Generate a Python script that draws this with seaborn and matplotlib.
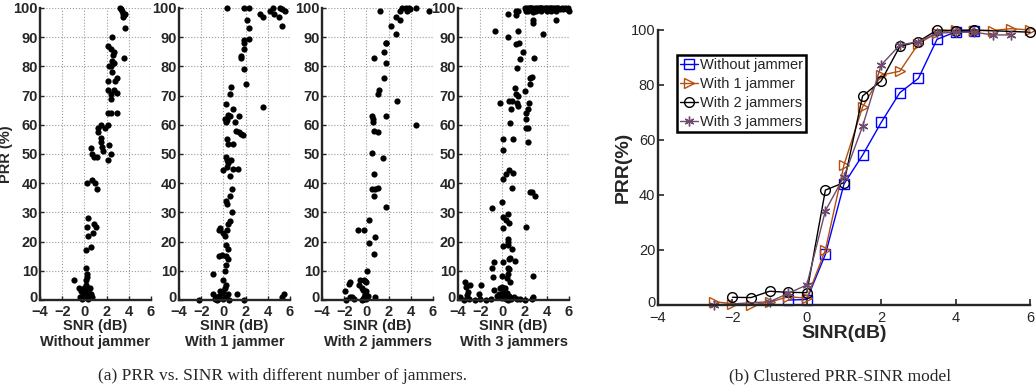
import seaborn as sns
import matplotlib.pyplot as plt
import matplotlib.transforms as mtransforms
import pandas as pd

# (a) measured PRR vs SINR, one scatter per jammer count
sinr_0j = [3.2, 3.3, 3.4, 3.5, 3.6, 3.7, 3.5, 3.7, 2.5, 2.1, 2.4, 2.7, 2.6, 3.6, 2.5, 2.7, 2.4, 2.2,
           2.5, 2.1, 2.8, 2.9, 2.1, 2.7, 2.9, 2.4, 2.4, 2.1, 2.9, 2.4, 1.5, 2.1, 1.9, 1.2, 1.2,
           1.5, 1.5, 1.6, 2.2, 2.4, 1.7, 2.1, 0.55, 0.7, 0.85, 1.15, 0.2, 0.7, 0.95, 1.15,
           0.3, 0.2, 0.9, 1.0, 0.8, 0.35, 0.6, 0.1, 0.1, 0.25, 0.2, 0.1, -0.9,
           -0.5, -0.3, 0.0, 0.2, 0.4, 0.5, 0.3, 0.0, -0.2, 0.1, 0.6, 0.2, -0.4, 0.7, 0.0, 0.3, -0.1]
prr_0j = [100, 99.5, 99, 98, 97.5, 98, 97, 93, 90, 87, 86, 85, 84, 83, 82, 81, 80, 80,
          78, 75, 75, 76, 72, 72, 71, 70.5, 69, 64, 64, 64, 60, 60, 59, 59, 57.5,
          55.5, 54, 52.5, 53, 50, 51, 48, 52, 50, 49, 49, 40, 41, 40, 38,
          28, 25, 26, 25, 23, 22, 18, 17, 11, 9, 8, 7, 7,
          4, 3, 2, 1, 2, 4, 3, 1, 0.5, 5, 2, 3, 1, 1, 4, 0.5, 2.5]

sinr_1j = [0.35, 1.9, 2.35, 2.15, 2.35, 2.35, 1.9, 1.9, 1.9, 1.6, 1.6, 1.85, 2.05,
           3.3, 3.6, 4.2, 4.45, 4.6, 5.05, 5.1, 5.25, 5.55, 5.25, 3.6, 5.25, 5.5,
           0.65, 0.6, 0.2, 0.9, 0.45, 0.6, 0.15, 0.3, 0.2, 1.4, 1.0, 1.1, 1.45, 1.6, 1.75,
           0.3, 0.45, 0.9, 0.2, 0.3, 0.65, 0.45, 0.0, 0.3, 0.9, 1.3, 0.6, 0.75,
           0.55, 0.3, 0.2, 0.75, 0.6, 0.45, 0.3, -0.3, -0.4, 0.0, 0.15,
           0.45, 0.2, 0.2, -0.15, -0.4, 0.4, 0.2, 0.15, 0.0, -0.9, 0.2,
           -0.9, -0.7, -0.5, -0.3, -0.6, -0.1, 0.2, 0.0, 0.4, -0.8, 0.5, 1.2, -2.2, 1.9, -0.4, 0.1, 0.0]
prr_1j = [100, 100, 100, 96, 93, 89.5, 89, 88, 86, 83.5, 83, 79, 74,
          98, 97, 99, 100, 98, 97, 100, 99.5, 99, 94, 66, 1, 2,
          73, 70.5, 67, 65.5, 63.5, 63, 62, 61.5, 61, 63, 61, 58, 57.5, 57, 56.5,
          55, 53.5, 53.5, 49, 48, 48, 47, 44.5, 45.5, 45, 45, 42.5, 38,
          35.5, 33, 34, 30, 27, 26, 24, 24.5, 24, 23, 22,
          17.5, 19, 15, 15.5, 15, 14, 12, 10, 7, 9, 5,
          2, 1, 0.5, 3, 0, 2.5, 1, 0.3, 2, 0.5, 0, 2, 0, 0, 1.5, 4, 3]

sinr_2j = [1.2, 3.0, 3.25, 3.55, 3.65, 3.85, 3.9, 4.5, 5.6, 2.65, 3.0, 2.2, 2.7,
           1.75, 1.8, 1.6, 1.75, 0.7, 1.6, 1.1, 1.0, 2.8, 0.5, 0.6, 0.55, 1.75, 4.5,
           0.7, 1.0, 0.5, 1.5, 0.7, 0.5, 0.8, 1.0, 0.7, 1.8, 0.25, -0.8, -0.2,
           0.8, 0.2, 0.65, 0.05,
           -1.8, -1.9, -1.6, -1.5, -1.5, -1.3, -1.1, -0.7, -0.6, -0.4, -0.3, -0.2, -0.1, 0.0,
           -0.3, -0.2, -0.1, 0.0, 0.1, 0.0, -0.4, 0.8, -0.2, -0.1]
prr_2j = [99, 99, 100, 100, 99, 100, 99.5, 100, 99, 97, 96, 94, 91,
          88, 88, 85, 81, 83, 76, 72, 70.5, 68, 63, 62, 61, 63, 60,
          58, 57.5, 50.5, 48.5, 43, 38, 38, 38.3, 35.5, 32, 27.5, 24, 24,
          21.7, 19.4, 15.7, 10,
          0, 3, 5.5, 6, 1, 1, 0.5, 5, 7, 4, 3.5, 7, 6.5, 6,
          0.5, 1, 2, 3, 1.5, 0.3, 0, 1, 0.2, 0.8]

sinr_3j = [2.0, 2.1, 2.2, 2.3, 2.4, 2.5, 2.6, 2.7, 2.8, 2.9, 3.0, 3.1, 3.2, 3.3, 3.4, 3.5, 3.6,
           3.7, 3.8, 3.9, 4.0, 4.1, 4.2, 4.3, 4.4, 4.5, 4.6, 4.7, 4.8, 5.0, 5.2, 5.4, 5.6, 5.8, 6.0,
           2.15, 2.45, 3.05, 3.45, 3.95, 4.35, 4.9, 5.5, 5.9,
           0.5, -0.65, 0.5, 1.2, 1.2, 1.4, 2.8, 2.75, 2.8, 1.4, 3.7, 4.8,
           1.25, 1.5, 1.9, 1.55, 2.85, 1.3, 2.5, 2.7, 2.45,
           1.1, 1.2, 1.4, 2.0, -0.2, 0.55, 0.85, 1.3, 1.4, 0.8,
           2.4, 2.3, 2.15, 2.15, 2.1, 2.3, 2.3, 0.65, 0.05, 0.95, 0.05,
           0.6, 0.35, 0.95, 0.05, 0.9, -0.95, 0.0, 2.15, 2.5, 2.7, 2.9,
           0.5, 0.05, 0.3, 0.6, 0.05, 0.5, 0.5, 0.9, 0.05, 0.5,
           0.65, 0.6, 1.1, 0.05, 0.5, 0.6, 0.5, 0.45, 0.65, -0.8, -0.95, -0.85, 2.75, 0.0,
           -3.4, -2.9, -1.9, -3.3, -3.1, -3.2, -3.8, -2.1,
           -3.5, -3.0, -2.5, -2.0, -1.5, -1.0, -0.8, -0.5, -0.3, -0.2, 0.0, 0.1, 0.2, 0.3,
           0.4, 0.5, 0.6, 0.8, 1.0, 1.3, 1.6, 2.0, 2.8, 2.7, 0.0, -0.1, 0.2, 0.3]
prr_3j = [100, 99.5, 100, 99, 100, 99.5, 100, 100, 99.5, 100, 99, 100, 99.5, 100, 100, 99, 100,
          99.5, 100, 100, 99, 100, 99.5, 100, 100, 99.5, 100, 100, 99, 100, 99.5, 100, 100, 99.5, 99,
          99, 100, 99.5, 100, 99.5, 99, 100, 99.5, 100,
          98, 92, 90, 97.5, 99, 99, 98.5, 96, 95, 92, 91, 96,
          87.5, 88, 85, 82.5, 83, 79.5, 76, 76.5, 74,
          72.5, 70.5, 70, 71.5, 67.5, 68, 68, 67.5, 66.5, 65.5,
          67.5, 65.5, 64, 62, 59, 59, 54, 60.5, 55, 55, 51.5,
          44.5, 43, 43.5, 41.5, 38.5, 31.5, 33.5, 25, 37, 37, 35.5,
          29.5, 28.5, 27.5, 26.5, 24.5, 21, 20, 17.5, 18.5, 19,
          14.5, 14, 13.5, 13, 11, 10.5, 9, 7.5, 6, 13, 11, 8, 8.3, 8.2,
          6, 5, 5, 4.3, 2.6, 1.7, 1.1, 2,
          0, 0.5, 0, 0.2, 0, 0.3, 3.5, 1.5, 2, 4, 4.5, 3, 1, 0.5,
          2.5, 0, 1.5, 0.2, 1, 0.5, 0.2, 0, 1, 0.5, 0.8, 2.2, 4, 2]

panel_xlabels = ['SNR (dB)', 'SINR (dB)', 'SINR (dB)', 'SINR (dB)']
panel_titles = ['Without jammer', 'With 1 jammer', 'With 2 jammers', 'With 3 jammers']
x_ticks = [-4, -2, 0, 2, 4, 6]
y_ticks_a = [0, 10, 20, 30, 40, 50, 60, 70, 80, 90, 100]
y_ticks_b = [0, 20, 40, 60, 80, 100]

# (b) clustered model curves
x_0j = [-0.5, 0, 0.5, 1, 1.5, 2, 2.5, 3, 3.5, 4, 4.5]
y_0j = [1.8, 2, 18.4, 44, 54.5, 66.4, 77.2, 82.4, 96.6, 99.3, 99.5]
x_1j = [-2.5, -2, -1.5, -1, -0.5, 0, 0.5, 1, 1.5, 2, 2.5, 3, 3.5, 4, 4.5, 5, 5.5, 6]
y_1j = [1.2, 0.5, 0, 1, 3, 2.5, 20, 51, 72, 83.6, 85, 95, 99, 100, 99.8, 99.8, 100.5, 100]
x_2j = [-2, -1.5, -1, -0.5, 0, 0.5, 1, 1.5, 2, 2.5, 3, 3.5, 4, 4.5, 6]
y_2j = [2.8, 2.7, 5, 4.6, 4.5, 41.8, 44.5, 76, 81.5, 94, 95.8, 100, 99.8, 100, 99.2]
x_3j = [-2.5, -1, -0.5, 0, 0.5, 1, 1.5, 2, 2.5, 3, 3.5, 4, 4.5, 5, 5.5]
y_3j = [0, 1.2, 4.2, 7.3, 34.3, 46.7, 65, 87.3, 94.5, 95.8, 98.8, 99.2, 99.2, 98.2, 98.2]
model_labels = ['Without jammer', 'With 1 jammer', 'With 2 jammers', 'With 3 jammers']


def tick_text(vals):
    return [str(v).replace('-', '\u2212') for v in vals]


sns.set_style('ticks')
plt.rcParams['font.family'] = ['Liberation Sans', 'DejaVu Sans']
plt.rcParams['axes.linewidth'] = 1.7

fig = plt.figure(figsize=(10.36, 3.92), dpi=100)
lift = mtransforms.ScaledTranslation(0, 2.5 / 72, fig.dpi_scale_trans)

scatter_sets = [(sinr_0j, prr_0j), (sinr_1j, prr_1j), (sinr_2j, prr_2j), (sinr_3j, prr_3j)]
lefts = [40, 179, 322, 458]
for i, (xs, ys) in enumerate(scatter_sets):
    ax = fig.add_axes([lefts[i] / 1036, 1 - 300 / 392, 111 / 1036, 292 / 392])
    df = pd.DataFrame({'x': xs, 'y': ys})
    sns.scatterplot(data=df, x='x', y='y', ax=ax, color='black', s=20, linewidth=0, clip_on=False)
    ax.set_xlim(-4, 6)
    ax.set_ylim(0, 100)
    ax.set_xticks(x_ticks)
    ax.set_xticklabels(tick_text(x_ticks), fontweight='bold', fontsize=10.5)
    ax.set_yticks(y_ticks_a)
    ax.set_yticklabels(tick_text(y_ticks_a), fontweight='bold', fontsize=10.5)
    ax.grid(True, linestyle=':', color='#9a9a9a', linewidth=0.8)
    ax.tick_params(direction='in', length=3, width=1)
    ax.tick_params(axis='x', pad=3.5)
    ax.tick_params(axis='y', pad=1.5)
    # the bottom "0" sits just above the corner, clear of "-4"
    zero_lab = ax.yaxis.get_major_ticks()[0].label1
    zero_lab.set_transform(zero_lab.get_transform() + lift)
    sns.despine(ax=ax)
    ax.set_xlabel(panel_xlabels[i] + '\n' + panel_titles[i], fontsize=10.5, fontweight='bold',
                  labelpad=0, linespacing=1.15)
    if i == 0:
        ax.set_ylabel('PRR (%)', fontsize=10.5, fontweight='bold', labelpad=0)
    else:
        ax.set_ylabel('')

fig.text(282 / 1036, 1 - 376 / 392, '(a) PRR vs. SINR with different number of jammers.',
         ha='center', va='center', fontsize=12.5, family=['Liberation Serif', 'DejaVu Serif'])

# right panel
axb = fig.add_axes([658 / 1036, 1 - 305 / 392, 372 / 1036, 275 / 392])
curves = [(x_0j, y_0j, 's', '#0000FF'), (x_1j, y_1j, '>', '#B5500F'),
          (x_2j, y_2j, 'o', '#000000'), (x_3j, y_3j, (6, 2, 0), '#6E4B6E')]
for (xs, ys, mk, col), lab in zip(curves, model_labels):
    df = pd.DataFrame({'x': xs, 'y': ys})
    sns.lineplot(data=df, x='x', y='y', ax=axb, color=col, marker=mk, markersize=7 if mk != 's' else 6.5,
                 markerfacecolor='none', markeredgecolor=col,
                 markeredgewidth=1.0, linewidth=1.0, sort=False, label=lab, clip_on=False)
axb.set_xlim(-4, 6)
axb.set_ylim(0, 100)
axb.set_xticks(x_ticks)
axb.set_xticklabels(tick_text(x_ticks))
axb.set_yticks(y_ticks_b)
axb.tick_params(direction='in', length=4, width=1.2, labelsize=10.5)
axb.tick_params(axis='x', pad=4.5)
axb.tick_params(axis='y', pad=2)
zero_b = axb.yaxis.get_major_ticks()[0].label1
zero_b.set_transform(zero_b.get_transform() + lift)
sns.despine(ax=axb)
axb.set_xlabel('SINR(dB)', fontsize=14, fontweight='bold', labelpad=0)
axb.set_ylabel('PRR(%)', fontsize=14, fontweight='bold', labelpad=-1)
leg = axb.legend(loc='upper left', bbox_to_anchor=(0.05, 0.91), fontsize=10.5, fancybox=False,
                 framealpha=1, edgecolor='black', borderpad=0.2, handlelength=1.3,
                 handletextpad=0.1, labelspacing=0.35, borderaxespad=0)
leg.get_frame().set_linewidth(1.8)

fig.text(840 / 1036, 1 - 376 / 392, '(b) Clustered PRR-SINR model',
         ha='center', va='center', fontsize=12.5, family=['Liberation Serif', 'DejaVu Serif'])

plt.savefig('out.png', dpi=100)
